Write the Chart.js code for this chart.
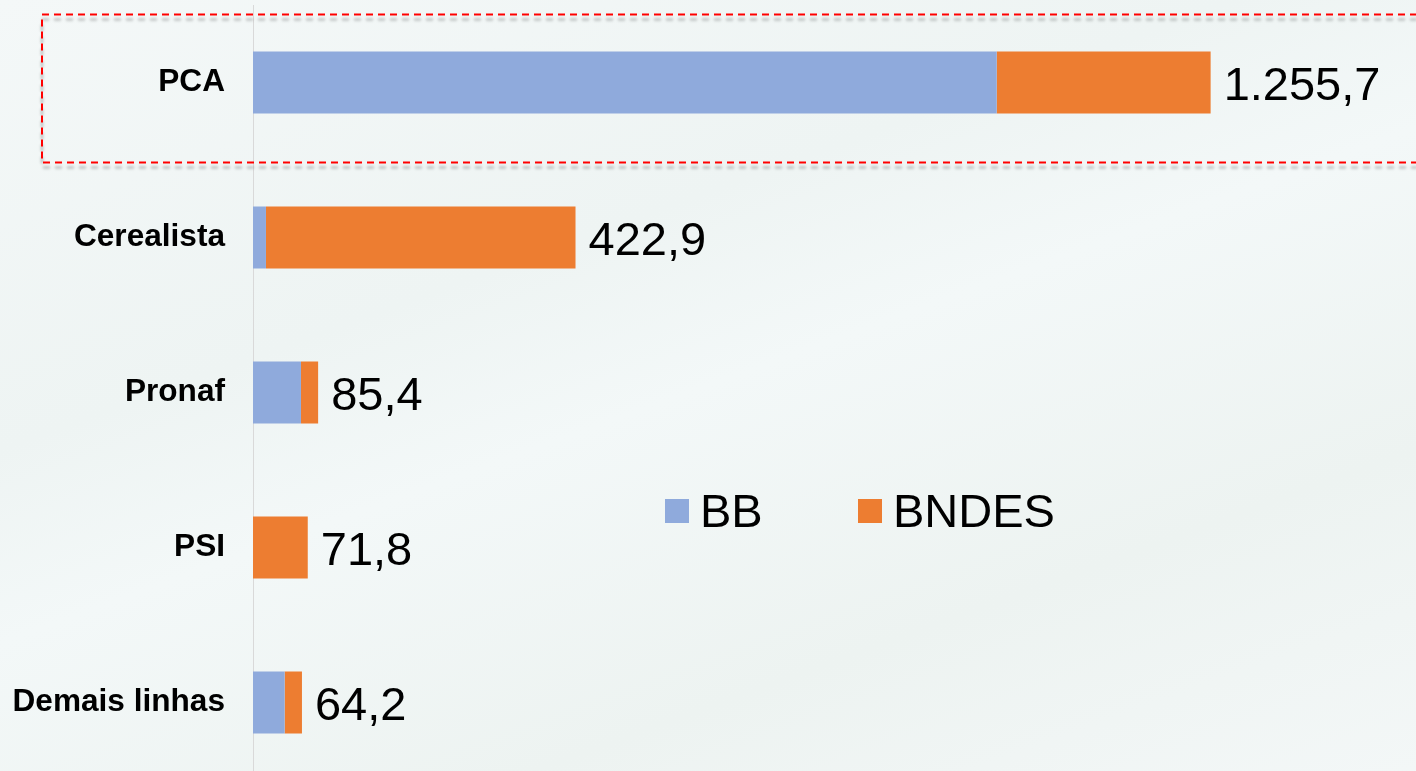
<!DOCTYPE html>
<html>
<head>
    <title>PCA x BB x BNDES</title>
    <script src="https://cdn.jsdelivr.net/npm/chart.js"></script>
    <style>
        html, body { margin: 0; padding: 0; overflow: hidden; }
        body {
            width: 1416px; height: 771px;
            background: linear-gradient(160deg, #f4f8f8 0%, #eef4f3 35%, #f3f8f8 50%, #edf3f1 75%, #f3f7f7 100%);
        }
        #wrap { position: relative; width: 1416px; height: 780px; }
    </style>
</head>
<body>
    <div id="wrap"><canvas id="chart"></canvas></div>

    <script>
        // values (R$ milhões)
        const categories = ['PCA', 'Cerealista', 'Pronaf', 'PSI', 'Demais linhas'];
        const bbValues = [975.2, 17.0, 62.9, 0, 41.5];
        const bndesValues = [280.5, 405.9, 22.5, 71.8, 22.7];
        const seriesNames = ['BB', 'BNDES'];
        const seriesColors = ['#8faadc', '#ed7d31'];

        const FONT = "'Liberation Sans', Arial, sans-serif";

        function fmt(n) {
            const parts = n.toFixed(1).split('.');
            parts[0] = parts[0].replace(/\B(?=(\d{3})+(?!\d))/g, '.');
            return parts.join(',');
        }

        // total label at the end of each bar
        const totalsPlugin = {
            id: 'totals',
            afterDatasetsDraw(chart) {
                const ctx = chart.ctx;
                const x = chart.scales.x, y = chart.scales.y;
                ctx.save();
                ctx.font = '47px ' + FONT;
                ctx.fillStyle = '#000';
                ctx.textAlign = 'left';
                ctx.textBaseline = 'alphabetic';
                categories.forEach((c, i) => {
                    const total = bbValues[i] + bndesValues[i];
                    ctx.fillText(fmt(total), x.getPixelForValue(total) + 13, y.getPixelForValue(i) + 17);
                });
                ctx.restore();
            }
        };

        // legend sitting in the middle of the plot + dashed highlight around PCA
        const extrasPlugin = {
            id: 'extras',
            afterDraw(chart) {
                const ctx = chart.ctx;
                const y = chart.scales.y;
                ctx.save();

                // legend
                const legendX = [665, 858];
                const legendY = 511;
                ctx.font = '47px ' + FONT;
                ctx.textBaseline = 'alphabetic';
                ctx.textAlign = 'left';
                chart.data.datasets.forEach((ds, i) => {
                    ctx.fillStyle = ds.backgroundColor;
                    ctx.fillRect(legendX[i], legendY - 12, 24, 24);
                    ctx.fillStyle = '#000';
                    ctx.fillText(ds.label, legendX[i] + 35, legendY + 16);
                });

                // dashed box around the PCA row
                const cy = y.getPixelForValue(0);
                ctx.strokeStyle = '#ff0000';
                ctx.lineWidth = 2;
                ctx.setLineDash([7, 5]);
                ctx.shadowColor = 'rgba(0,0,0,0.28)';
                ctx.shadowOffsetY = 5;
                ctx.shadowBlur = 3;
                ctx.strokeRect(42, cy - 68, 1400, 148);
                ctx.restore();
            }
        };

        const ctx = document.getElementById('chart').getContext('2d');
        new Chart(ctx, {
            type: 'bar',
            data: {
                labels: categories,
                datasets: [{
                    label: seriesNames[0],
                    data: bbValues,
                    backgroundColor: seriesColors[0],
                    borderWidth: 0,
                    barPercentage: 0.4,
                    categoryPercentage: 1
                }, {
                    label: seriesNames[1],
                    data: bndesValues,
                    backgroundColor: seriesColors[1],
                    borderWidth: 0,
                    barPercentage: 0.4,
                    categoryPercentage: 1
                }]
            },
            options: {
                indexAxis: 'y',
                responsive: true,
                maintainAspectRatio: false,
                animation: false,
                layout: { padding: { top: 5, left: 0, right: 0, bottom: 0 } },
                plugins: {
                    legend: { display: false },
                    tooltip: { enabled: false }
                },
                scales: {
                    x: {
                        stacked: true,
                        display: false,
                        min: 0,
                        max: 1525
                    },
                    y: {
                        stacked: true,
                        grid: { display: false, drawTicks: false },
                        border: { display: true, color: '#d9d9d9', width: 1 },
                        ticks: {
                            padding: 28,
                            color: '#000',
                            font: { family: FONT, size: 31.6, weight: 'bold' }
                        },
                        afterFit(scale) {
                            scale.width = 253;
                            // tick padding should not eat vertical room
                            scale.paddingTop = 0;
                            scale.paddingBottom = 0;
                        }
                    }
                }
            },
            plugins: [totalsPlugin, extrasPlugin]
        });
    </script>
</body>
</html>
